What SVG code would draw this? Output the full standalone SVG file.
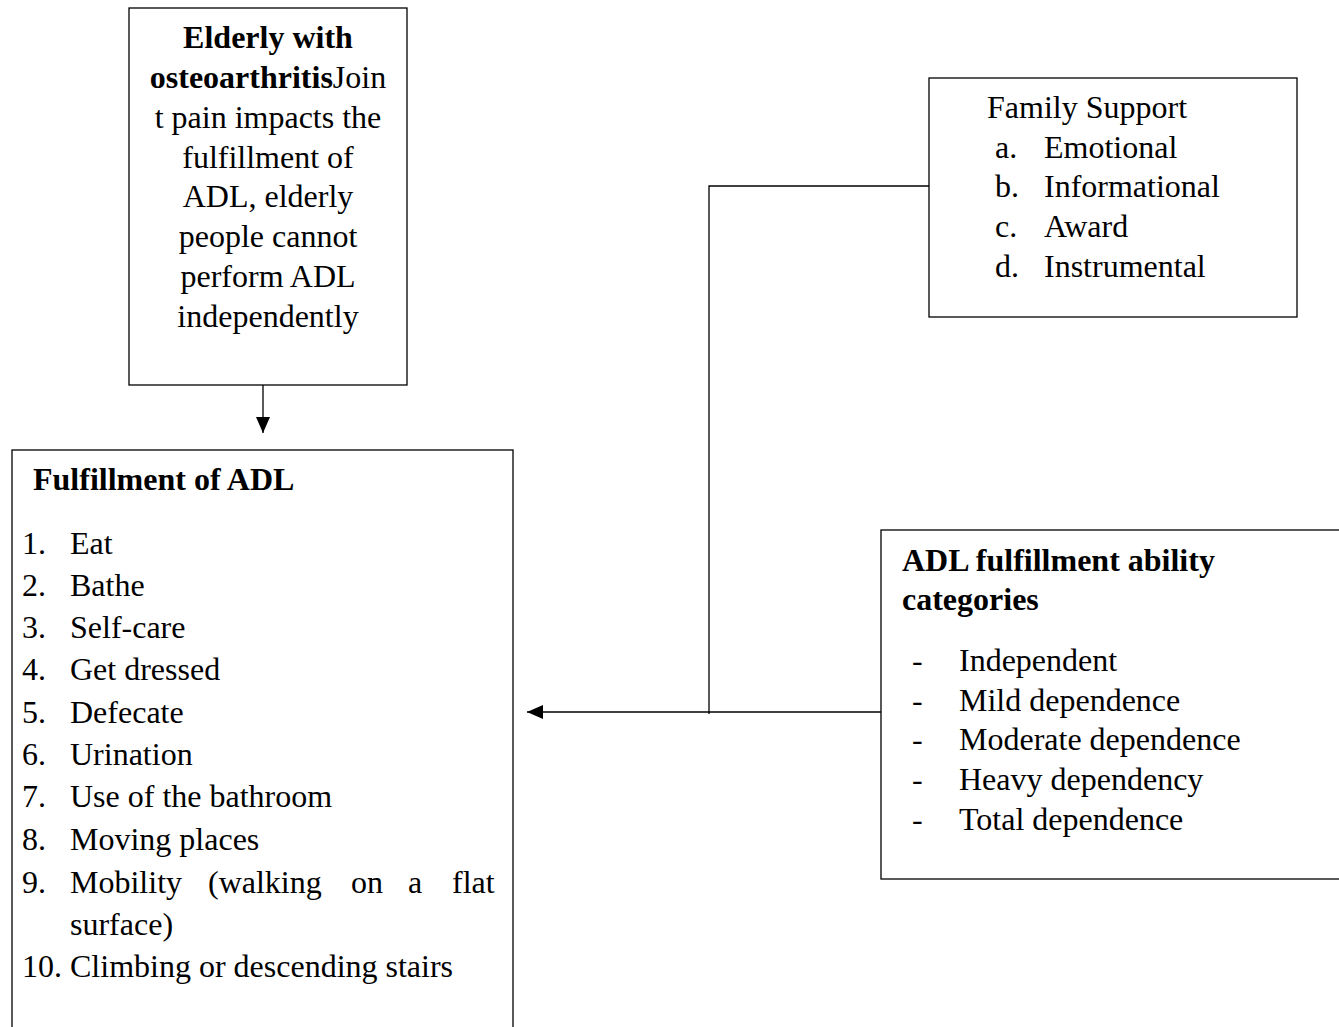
<svg xmlns="http://www.w3.org/2000/svg" width="1339" height="1027" viewBox="0 0 1339 1027">
<style>
.box{fill:#fff;stroke:#000;stroke-width:1.3}
.t{font-family:"Liberation Serif","Times New Roman",serif;font-size:32px;fill:#000}
.b{font-weight:bold}
.c{text-anchor:middle}
.ln{fill:none;stroke:#000;stroke-width:1.3}
</style>
<defs>
<marker id="arr" markerUnits="userSpaceOnUse" markerWidth="18" markerHeight="16" refX="16" refY="8" orient="auto">
<path d="M0,1 L16,8 L0,15 Z" fill="#000"/>
</marker>
</defs>
<rect width="1339" height="1027" fill="#fff"/>

<g id="node-elderly">
<rect class="box" x="129" y="8" width="278" height="377"/>
<text class="t c" x="268" y="48"><tspan class="b">Elderly with</tspan></text>
<text class="t c" x="268" y="88"><tspan class="b">osteoarthritis</tspan>Join</text>
<text class="t c" x="268" y="128">t pain impacts the</text>
<text class="t c" x="268" y="168">fulfillment of</text>
<text class="t c" x="268" y="207">ADL, elderly</text>
<text class="t c" x="268" y="247">people cannot</text>
<text class="t c" x="268" y="287">perform ADL</text>
<text class="t c" x="268" y="327">independently</text>
</g>

<g id="node-fulfillment">
<rect class="box" x="12" y="450" width="501" height="590"/>
<text class="t b" x="33" y="490">Fulfillment of ADL</text>
<text class="t" x="22" y="554">1.</text><text class="t" x="70" y="554">Eat</text>
<text class="t" x="22" y="596">2.</text><text class="t" x="70" y="596">Bathe</text>
<text class="t" x="22" y="638">3.</text><text class="t" x="70" y="638">Self-care</text>
<text class="t" x="22" y="680">4.</text><text class="t" x="70" y="680">Get dressed</text>
<text class="t" x="22" y="723">5.</text><text class="t" x="70" y="723">Defecate</text>
<text class="t" x="22" y="765">6.</text><text class="t" x="70" y="765">Urination</text>
<text class="t" x="22" y="807">7.</text><text class="t" x="70" y="807">Use of the bathroom</text>
<text class="t" x="22" y="850">8.</text><text class="t" x="70" y="850">Moving places</text>
<text class="t" x="22" y="893">9.</text><text class="t" x="70" y="893">Mobility</text><text class="t" x="208" y="893">(walking</text><text class="t" x="351" y="893">on</text><text class="t" x="408" y="893">a</text><text class="t" x="452" y="893">flat</text>
<text class="t" x="70" y="935">surface)</text>
<text class="t" x="22" y="977">10.</text><text class="t" x="70" y="977">Climbing or descending stairs</text>
</g>

<g id="node-family">
<rect class="box" x="929" y="78" width="368" height="239"/>
<text class="t" x="987" y="118">Family Support</text>
<text class="t" x="995" y="158">a.</text><text class="t" x="1044" y="158">Emotional</text>
<text class="t" x="995" y="197">b.</text><text class="t" x="1044" y="197">Informational</text>
<text class="t" x="995" y="237">c.</text><text class="t" x="1044" y="237">Award</text>
<text class="t" x="995" y="277">d.</text><text class="t" x="1044" y="277">Instrumental</text>
</g>

<g id="node-categories">
<rect class="box" x="881" y="530" width="470" height="349"/>
<text class="t b" x="902" y="571">ADL fulfillment ability</text>
<text class="t b" x="902" y="610">categories</text>
<text class="t" x="912" y="671">-</text><text class="t" x="959" y="671">Independent</text>
<text class="t" x="912" y="711">-</text><text class="t" x="959" y="711">Mild dependence</text>
<text class="t" x="912" y="750">-</text><text class="t" x="959" y="750">Moderate dependence</text>
<text class="t" x="912" y="790">-</text><text class="t" x="959" y="790">Heavy dependency</text>
<text class="t" x="912" y="830">-</text><text class="t" x="959" y="830">Total dependence</text>
</g>

<g id="connectors">
<line class="ln" x1="263" y1="385" x2="263" y2="433" marker-end="url(#arr)"/>
<line class="ln" x1="881" y1="712" x2="527" y2="712" marker-end="url(#arr)"/>
<polyline class="ln" points="929,186 709,186 709,714"/>
</g>
</svg>
